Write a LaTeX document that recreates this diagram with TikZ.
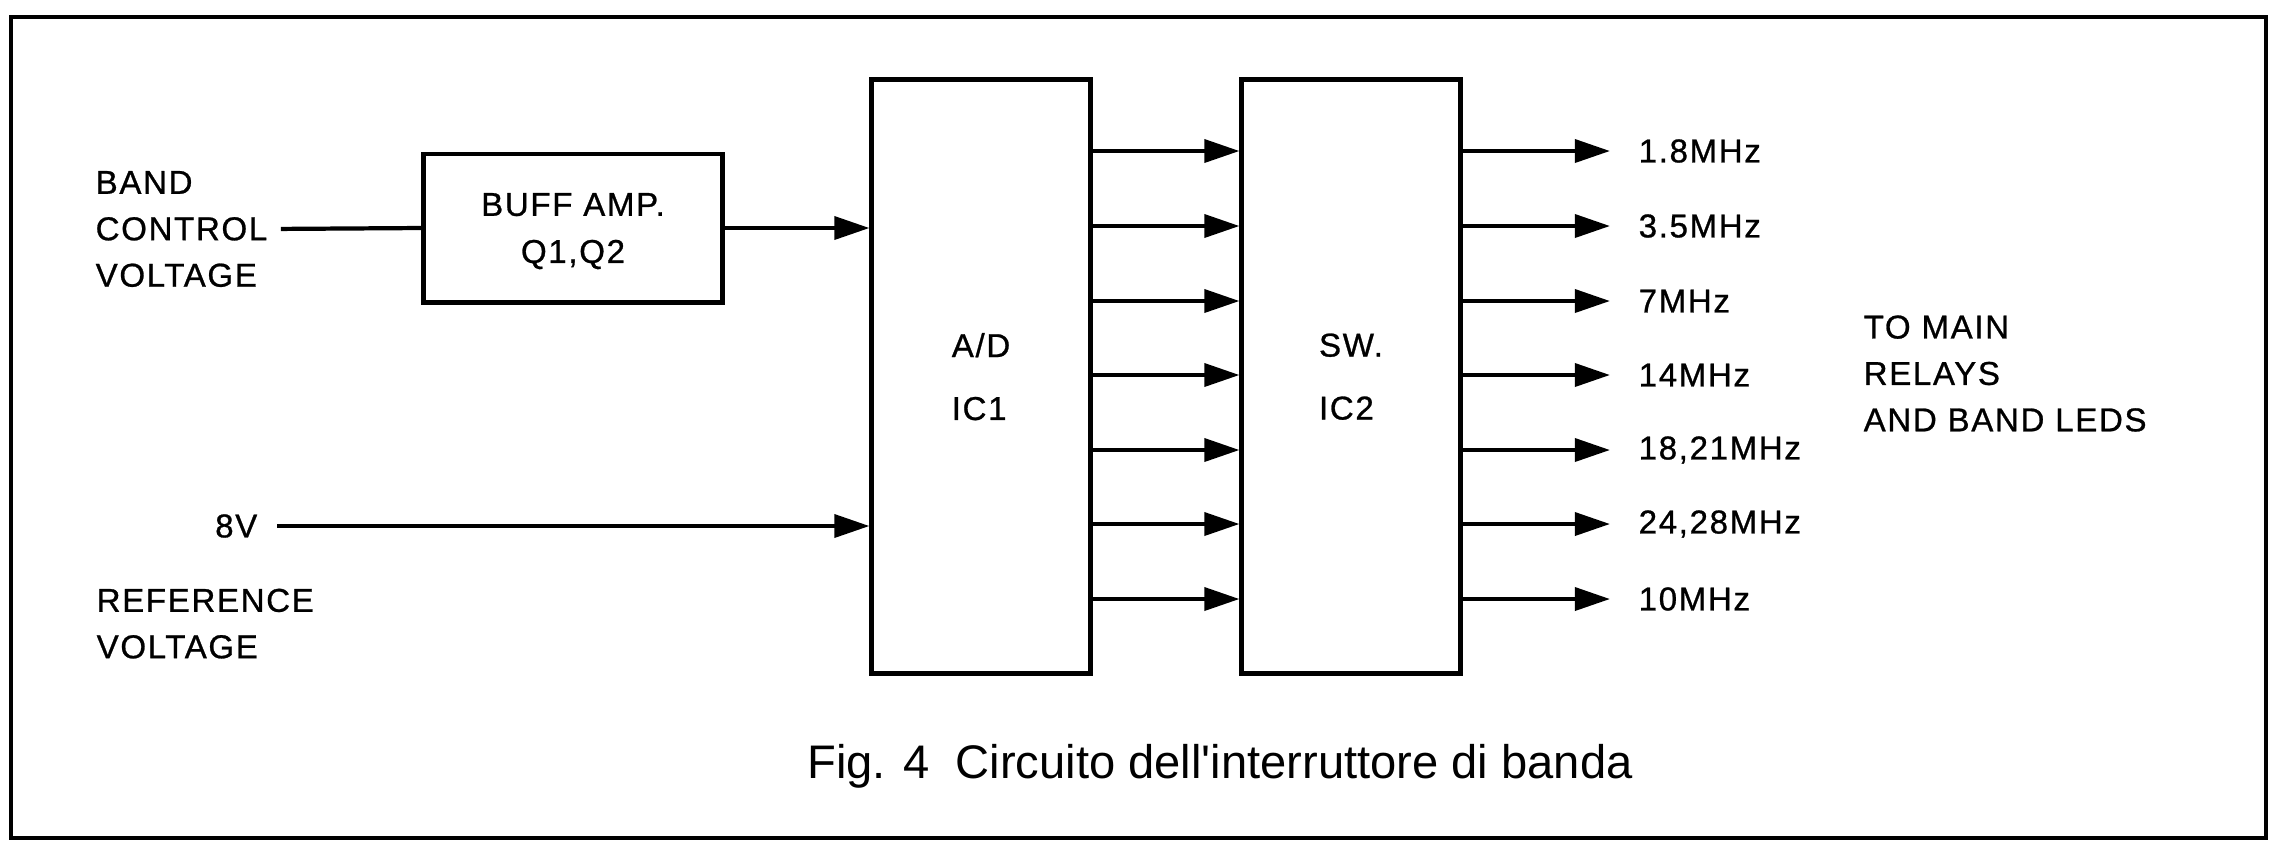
\documentclass[tikz,border=0pt]{standalone}
\usepackage{fontspec}
\setmainfont{Liberation Sans}
\newfontfamily\blockfont[LetterSpace=5,FakeBold=0.8]{Liberation Sans}
\newfontfamily\capfont{Liberation Sans}
\usepackage{tikz}
\usetikzlibrary{arrows.meta,positioning,calc}

\begin{document}
\begin{tikzpicture}[x=0.01cm,y=-0.01cm,
    lbl/.style={font=\blockfont\fontsize{9.4}{13.2}\selectfont, inner sep=0pt},
    blk/.style={draw, line width=1.4pt, inner sep=0pt, text depth=0pt, lbl},
    sig/.style={line width=1.2pt, -{Triangle[length=10pt,width=6.5pt]}}]
    \useasboundingbox (0,0) rectangle (2278,841);
    \draw[line width=1pt] (11,17) rectangle (2266,838);
    % blocks
    \node[blk, minimum width=2.98cm, minimum height=1.48cm, align=center] (buff) at (573,228) {BUFF AMP.\\[0.2pt]Q1,Q2};
    \node[blk, minimum width=2.18cm, minimum height=5.93cm, align=left] (ad) at (981,376.5) {A/D\\[4.7pt]IC1};
    \node[blk, minimum width=2.18cm, minimum height=5.93cm, align=left] (sw) at (1351,376.5) {SW.\\[4.7pt]IC2};
    % inputs
    \node[lbl, align=left, anchor=west] (bcv) at (95,229) {BAND\\CONTROL\\VOLTAGE};
    \node[lbl, anchor=east] (vref) at (258,526) {8V};
    \node[lbl, align=left, anchor=north west] (reftxt) at (96,588) {REFERENCE\\VOLTAGE};
    \draw[line width=1.2pt, shorten <=0.13cm] (bcv.east) -- (buff.west);
    \draw[sig] (buff.east) -- (ad.west |- buff.east);
    \draw[sig, shorten <=0.19cm] (vref.east) -- (ad.west |- vref.east);
    % outputs
    \foreach \y/\f [count=\i] in {151/1.8MHz,226/3.5MHz,301/7MHz,375/14MHz,450/{18,21MHz},524/{24,28MHz},599/10MHz}{
        \coordinate (t\i) at (1610,\y);
        \node[lbl, anchor=west] (f\i) at (1638,\y) {\f};
        \draw[sig] (ad.east |- t\i) -- (sw.west |- t\i);
        \draw[sig] (sw.east |- t\i) -- (t\i);
    }
    \node[lbl, align=left, anchor=west] (dest) at (1863,373.5) {TO MAIN\\RELAYS\\AND BAND LEDS};
    \node[font=\capfont\fontsize{13.4}{16}\selectfont] (cap) at (1220,766) {Fig. 4\ \ Circuito dell'interruttore di banda};
\end{tikzpicture}
\end{document}
